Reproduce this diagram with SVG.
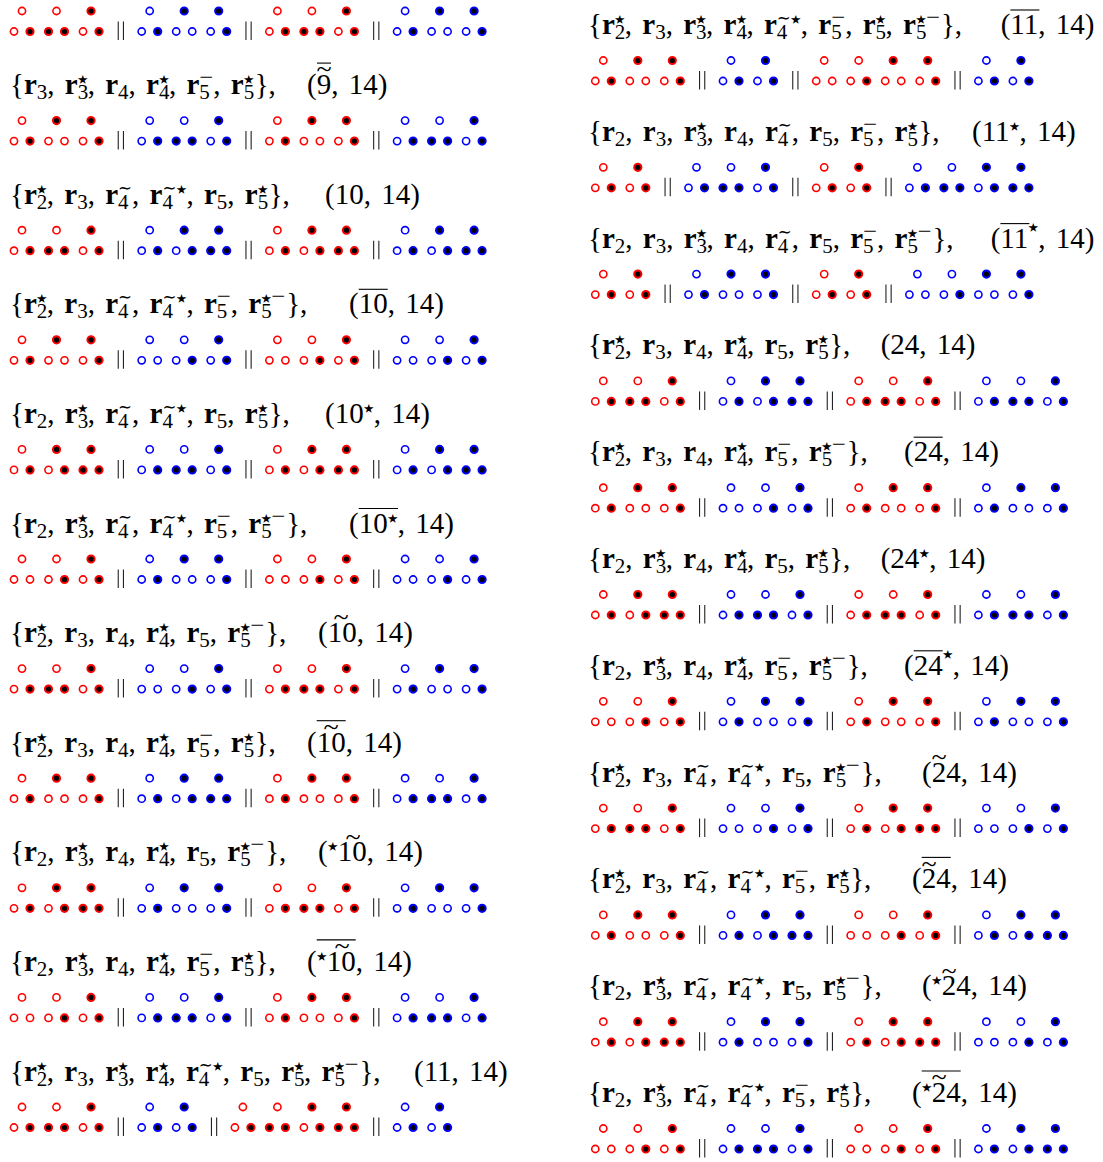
<svg xmlns="http://www.w3.org/2000/svg" width="1103" height="1162" viewBox="0 0 1103 1162">
<style>
.t{font-family:"Liberation Serif",serif;font-size:29px;word-spacing:3px;fill:#000}
.b{font-weight:bold}
.s{font-size:21px;baseline-shift:-5px}
.k{font-family:"Noto Sans CJK JP",sans-serif;font-size:10px;baseline-shift:11.5px}
.k2{font-family:"Noto Sans CJK JP",sans-serif;font-size:10px;baseline-shift:17px}
.m{font-size:21px;baseline-shift:10px}
.w{font-family:"DejaVu Sans",sans-serif;font-size:18px;baseline-shift:10px}
.tt{font-family:"Liberation Serif",serif;font-size:28px;text-anchor:middle;fill:#000}
.ov{stroke:#000;stroke-width:1.1}
.bar line{stroke:#222;stroke-width:1.1}
.ro{fill:#fff;stroke:#f00;stroke-width:1.6}
.rx{fill:#000;stroke:#f00;stroke-width:2}
.bo{fill:#fff;stroke:#00f;stroke-width:1.6}
.bx{fill:#000;stroke:#00f;stroke-width:2}
</style>
<defs>
<g id="Rooo"><circle class="ro" r="3.6"/><circle class="ro" cx="-8" cy="20.5" r="3.6"/><circle class="ro" cx="8" cy="20.5" r="3.6"/></g>
<g id="Roox"><circle class="ro" r="3.6"/><circle class="ro" cx="-8" cy="20.5" r="3.6"/><circle class="rx" cx="8" cy="20.5" r="3.6"/></g>
<g id="Roxx"><circle class="ro" r="3.6"/><circle class="rx" cx="-8" cy="20.5" r="3.6"/><circle class="rx" cx="8" cy="20.5" r="3.6"/></g>
<g id="Rxoo"><circle class="rx" r="3.6"/><circle class="ro" cx="-8" cy="20.5" r="3.6"/><circle class="ro" cx="8" cy="20.5" r="3.6"/></g>
<g id="Rxox"><circle class="rx" r="3.6"/><circle class="ro" cx="-8" cy="20.5" r="3.6"/><circle class="rx" cx="8" cy="20.5" r="3.6"/></g>
<g id="Rxxx"><circle class="rx" r="3.6"/><circle class="rx" cx="-8" cy="20.5" r="3.6"/><circle class="rx" cx="8" cy="20.5" r="3.6"/></g>
<g id="Booo"><circle class="bo" r="3.6"/><circle class="bo" cx="-8" cy="20.5" r="3.6"/><circle class="bo" cx="8" cy="20.5" r="3.6"/></g>
<g id="Boox"><circle class="bo" r="3.6"/><circle class="bo" cx="-8" cy="20.5" r="3.6"/><circle class="bx" cx="8" cy="20.5" r="3.6"/></g>
<g id="Boxx"><circle class="bo" r="3.6"/><circle class="bx" cx="-8" cy="20.5" r="3.6"/><circle class="bx" cx="8" cy="20.5" r="3.6"/></g>
<g id="Bxoo"><circle class="bx" r="3.6"/><circle class="bo" cx="-8" cy="20.5" r="3.6"/><circle class="bo" cx="8" cy="20.5" r="3.6"/></g>
<g id="Bxox"><circle class="bx" r="3.6"/><circle class="bo" cx="-8" cy="20.5" r="3.6"/><circle class="bx" cx="8" cy="20.5" r="3.6"/></g>
<g id="Bxxx"><circle class="bx" r="3.6"/><circle class="bx" cx="-8" cy="20.5" r="3.6"/><circle class="bx" cx="8" cy="20.5" r="3.6"/></g>
<g id="bar" class="bar"><line x1="-2.6" y1="10.5" x2="-2.6" y2="29"/><line x1="2.6" y1="10.5" x2="2.6" y2="29"/></g>
</defs>
<rect width="1103" height="1162" fill="#fff"/>

<g id="left-column">
<g id="left-0">
<g transform="translate(22,11)"><use href="#Roox"/><use href="#Roxx" x="34.5"/><use href="#Rxox" x="69"/><use href="#bar" x="98.85"/><use href="#Boox" x="127.7"/><use href="#Bxoo" x="162.2"/><use href="#Bxox" x="196.7"/><use href="#bar" x="226.55"/><use href="#Roox" x="255.4"/><use href="#Roxx" x="289.9"/><use href="#Rxox" x="324.4"/><use href="#bar" x="354.25"/><use href="#Boox" x="383.1"/><use href="#Bxoo" x="417.6"/><use href="#Bxox" x="452.1"/></g>
</g>
<g id="left-9bar">
<text class="t" x="10" y="94.1">{<tspan class="b">r</tspan><tspan class="s">3</tspan>, <tspan class="b">r</tspan><tspan class="s">3</tspan><tspan class="k" dx="-10.5">★</tspan>, <tspan class="b">r</tspan><tspan class="s">4</tspan>, <tspan class="b">r</tspan><tspan class="s">4</tspan><tspan class="k" dx="-10.5">★</tspan>, <tspan class="b">r</tspan><tspan class="s">5</tspan><tspan class="m" dx="-10.5" textLength="14" lengthAdjust="spacingAndGlyphs">−</tspan>, <tspan class="b">r</tspan><tspan class="s">5</tspan><tspan class="k" dx="-10.5">★</tspan><tspan dx="1">},</tspan></text>
<text class="t" x="307" y="94.1">(9, 14)</text>
<line class="ov" x1="317" y1="63.1" x2="331" y2="63.1"/><text class="tt" x="324" y="78.4">~</text>
<g transform="translate(22,120.6)"><use href="#Roox"/><use href="#Rxoo" x="34.5"/><use href="#Rxox" x="69"/><use href="#bar" x="98.85"/><use href="#Boox" x="127.7"/><use href="#Boxx" x="162.2"/><use href="#Bxox" x="196.7"/><use href="#bar" x="226.55"/><use href="#Roox" x="255.4"/><use href="#Rxoo" x="289.9"/><use href="#Rxox" x="324.4"/><use href="#bar" x="354.25"/><use href="#Boox" x="383.1"/><use href="#Boxx" x="417.6"/><use href="#Bxox" x="452.1"/></g>
</g>
<g id="left-10">
<text class="t" x="10" y="203.7">{<tspan class="b">r</tspan><tspan class="s">2</tspan><tspan class="k" dx="-10.5">★</tspan>, <tspan class="b">r</tspan><tspan class="s">3</tspan>, <tspan class="b">r</tspan><tspan class="s">4</tspan><tspan class="w" dx="-10.5" textLength="14" lengthAdjust="spacingAndGlyphs">∼</tspan>, <tspan class="b">r</tspan><tspan class="s">4</tspan><tspan class="w" dx="-10.5" textLength="14" lengthAdjust="spacingAndGlyphs">∼</tspan><tspan class="k">★</tspan>, <tspan class="b">r</tspan><tspan class="s">5</tspan>, <tspan class="b">r</tspan><tspan class="s">5</tspan><tspan class="k" dx="-10.5">★</tspan><tspan dx="1">},</tspan></text>
<text class="t" x="325" y="203.7">(10, 14)</text>
<g transform="translate(22,230.2)"><use href="#Roox"/><use href="#Roxx" x="34.5"/><use href="#Rxox" x="69"/><use href="#bar" x="98.85"/><use href="#Boox" x="127.7"/><use href="#Bxox" x="162.2"/><use href="#Bxxx" x="196.7"/><use href="#bar" x="226.55"/><use href="#Roox" x="255.4"/><use href="#Rxox" x="289.9"/><use href="#Rxxx" x="324.4"/><use href="#bar" x="354.25"/><use href="#Boox" x="383.1"/><use href="#Bxox" x="417.6"/><use href="#Bxxx" x="452.1"/></g>
</g>
<g id="left-10bar">
<text class="t" x="10" y="313.3">{<tspan class="b">r</tspan><tspan class="s">2</tspan><tspan class="k" dx="-10.5">★</tspan>, <tspan class="b">r</tspan><tspan class="s">3</tspan>, <tspan class="b">r</tspan><tspan class="s">4</tspan><tspan class="w" dx="-10.5" textLength="14" lengthAdjust="spacingAndGlyphs">∼</tspan>, <tspan class="b">r</tspan><tspan class="s">4</tspan><tspan class="w" dx="-10.5" textLength="14" lengthAdjust="spacingAndGlyphs">∼</tspan><tspan class="k">★</tspan>, <tspan class="b">r</tspan><tspan class="s">5</tspan><tspan class="m" dx="-10.5" textLength="14" lengthAdjust="spacingAndGlyphs">−</tspan>, <tspan class="b">r</tspan><tspan class="s">5</tspan><tspan class="k" dx="-10.5">★</tspan><tspan class="m" textLength="14" lengthAdjust="spacingAndGlyphs">−</tspan><tspan dx="1">},</tspan></text>
<text class="t" x="349" y="313.3">(10, 14)</text>
<line class="ov" x1="358.7" y1="289.3" x2="387.7" y2="289.3"/>
<g transform="translate(22,339.8)"><use href="#Roox"/><use href="#Rxoo" x="34.5"/><use href="#Rxox" x="69"/><use href="#bar" x="98.85"/><use href="#Booo" x="127.7"/><use href="#Boox" x="162.2"/><use href="#Bxox" x="196.7"/><use href="#bar" x="226.55"/><use href="#Rooo" x="255.4"/><use href="#Roox" x="289.9"/><use href="#Rxox" x="324.4"/><use href="#bar" x="354.25"/><use href="#Booo" x="383.1"/><use href="#Boox" x="417.6"/><use href="#Bxox" x="452.1"/></g>
</g>
<g id="left-10star">
<text class="t" x="10" y="422.9">{<tspan class="b">r</tspan><tspan class="s">2</tspan>, <tspan class="b">r</tspan><tspan class="s">3</tspan><tspan class="k" dx="-10.5">★</tspan>, <tspan class="b">r</tspan><tspan class="s">4</tspan><tspan class="w" dx="-10.5" textLength="14" lengthAdjust="spacingAndGlyphs">∼</tspan>, <tspan class="b">r</tspan><tspan class="s">4</tspan><tspan class="w" dx="-10.5" textLength="14" lengthAdjust="spacingAndGlyphs">∼</tspan><tspan class="k">★</tspan>, <tspan class="b">r</tspan><tspan class="s">5</tspan>, <tspan class="b">r</tspan><tspan class="s">5</tspan><tspan class="k" dx="-10.5">★</tspan><tspan dx="1">},</tspan></text>
<text class="t" x="325" y="422.9">(10<tspan class="k">★</tspan>, 14)</text>
<g transform="translate(22,449.4)"><use href="#Roox"/><use href="#Rxox" x="34.5"/><use href="#Rxxx" x="69"/><use href="#bar" x="98.85"/><use href="#Boox" x="127.7"/><use href="#Boxx" x="162.2"/><use href="#Bxox" x="196.7"/><use href="#bar" x="226.55"/><use href="#Roox" x="255.4"/><use href="#Rxox" x="289.9"/><use href="#Rxxx" x="324.4"/><use href="#bar" x="354.25"/><use href="#Boox" x="383.1"/><use href="#Bxox" x="417.6"/><use href="#Bxxx" x="452.1"/></g>
</g>
<g id="left-10starbar">
<text class="t" x="10" y="532.5">{<tspan class="b">r</tspan><tspan class="s">2</tspan>, <tspan class="b">r</tspan><tspan class="s">3</tspan><tspan class="k" dx="-10.5">★</tspan>, <tspan class="b">r</tspan><tspan class="s">4</tspan><tspan class="w" dx="-10.5" textLength="14" lengthAdjust="spacingAndGlyphs">∼</tspan>, <tspan class="b">r</tspan><tspan class="s">4</tspan><tspan class="w" dx="-10.5" textLength="14" lengthAdjust="spacingAndGlyphs">∼</tspan><tspan class="k">★</tspan>, <tspan class="b">r</tspan><tspan class="s">5</tspan><tspan class="m" dx="-10.5" textLength="14" lengthAdjust="spacingAndGlyphs">−</tspan>, <tspan class="b">r</tspan><tspan class="s">5</tspan><tspan class="k" dx="-10.5">★</tspan><tspan class="m" textLength="14" lengthAdjust="spacingAndGlyphs">−</tspan><tspan dx="1">},</tspan></text>
<text class="t" x="349" y="532.5">(10<tspan class="k">★</tspan>, 14)</text>
<line class="ov" x1="358.7" y1="508.5" x2="398" y2="508.5"/>
<g transform="translate(22,559)"><use href="#Rooo"/><use href="#Roox" x="34.5"/><use href="#Rxox" x="69"/><use href="#bar" x="98.85"/><use href="#Boox" x="127.7"/><use href="#Bxoo" x="162.2"/><use href="#Bxox" x="196.7"/><use href="#bar" x="226.55"/><use href="#Rooo" x="255.4"/><use href="#Roox" x="289.9"/><use href="#Rxox" x="324.4"/><use href="#bar" x="354.25"/><use href="#Booo" x="383.1"/><use href="#Boox" x="417.6"/><use href="#Bxox" x="452.1"/></g>
</g>
<g id="left-10tilde">
<text class="t" x="10" y="642.1">{<tspan class="b">r</tspan><tspan class="s">2</tspan><tspan class="k" dx="-10.5">★</tspan>, <tspan class="b">r</tspan><tspan class="s">3</tspan>, <tspan class="b">r</tspan><tspan class="s">4</tspan>, <tspan class="b">r</tspan><tspan class="s">4</tspan><tspan class="k" dx="-10.5">★</tspan>, <tspan class="b">r</tspan><tspan class="s">5</tspan>, <tspan class="b">r</tspan><tspan class="s">5</tspan><tspan class="k" dx="-10.5">★</tspan><tspan class="m" textLength="14" lengthAdjust="spacingAndGlyphs">−</tspan><tspan dx="1">},</tspan></text>
<text class="t" x="318" y="642.1">(10, 14)</text>
<text class="tt" x="341" y="626.4">~</text>
<g transform="translate(22,668.6)"><use href="#Roox"/><use href="#Roxx" x="34.5"/><use href="#Rxox" x="69"/><use href="#bar" x="98.85"/><use href="#Booo" x="127.7"/><use href="#Boox" x="162.2"/><use href="#Bxox" x="196.7"/><use href="#bar" x="226.55"/><use href="#Roox" x="255.4"/><use href="#Roxx" x="289.9"/><use href="#Rxox" x="324.4"/><use href="#bar" x="354.25"/><use href="#Boox" x="383.1"/><use href="#Bxoo" x="417.6"/><use href="#Bxox" x="452.1"/></g>
</g>
<g id="left-10tildebar">
<text class="t" x="10" y="751.7">{<tspan class="b">r</tspan><tspan class="s">2</tspan><tspan class="k" dx="-10.5">★</tspan>, <tspan class="b">r</tspan><tspan class="s">3</tspan>, <tspan class="b">r</tspan><tspan class="s">4</tspan>, <tspan class="b">r</tspan><tspan class="s">4</tspan><tspan class="k" dx="-10.5">★</tspan>, <tspan class="b">r</tspan><tspan class="s">5</tspan><tspan class="m" dx="-10.5" textLength="14" lengthAdjust="spacingAndGlyphs">−</tspan>, <tspan class="b">r</tspan><tspan class="s">5</tspan><tspan class="k" dx="-10.5">★</tspan><tspan dx="1">},</tspan></text>
<text class="t" x="307" y="751.7">(10, 14)</text>
<line class="ov" x1="316.7" y1="720.7" x2="345.7" y2="720.7"/><text class="tt" x="331" y="736">~</text>
<g transform="translate(22,778.2)"><use href="#Roox"/><use href="#Rxoo" x="34.5"/><use href="#Rxox" x="69"/><use href="#bar" x="98.85"/><use href="#Boox" x="127.7"/><use href="#Bxox" x="162.2"/><use href="#Bxxx" x="196.7"/><use href="#bar" x="226.55"/><use href="#Roox" x="255.4"/><use href="#Rxoo" x="289.9"/><use href="#Rxox" x="324.4"/><use href="#bar" x="354.25"/><use href="#Boox" x="383.1"/><use href="#Boxx" x="417.6"/><use href="#Bxox" x="452.1"/></g>
</g>
<g id="left-star10tilde">
<text class="t" x="10" y="861.3">{<tspan class="b">r</tspan><tspan class="s">2</tspan>, <tspan class="b">r</tspan><tspan class="s">3</tspan><tspan class="k" dx="-10.5">★</tspan>, <tspan class="b">r</tspan><tspan class="s">4</tspan>, <tspan class="b">r</tspan><tspan class="s">4</tspan><tspan class="k" dx="-10.5">★</tspan>, <tspan class="b">r</tspan><tspan class="s">5</tspan>, <tspan class="b">r</tspan><tspan class="s">5</tspan><tspan class="k" dx="-10.5">★</tspan><tspan class="m" textLength="14" lengthAdjust="spacingAndGlyphs">−</tspan><tspan dx="1">},</tspan></text>
<text class="t" x="318" y="861.3">(<tspan class="k">★</tspan>10, 14)</text>
<text class="tt" x="353" y="845.6">~</text>
<g transform="translate(22,887.8)"><use href="#Roox"/><use href="#Rxox" x="34.5"/><use href="#Rxxx" x="69"/><use href="#bar" x="98.85"/><use href="#Boox" x="127.7"/><use href="#Bxoo" x="162.2"/><use href="#Bxox" x="196.7"/><use href="#bar" x="226.55"/><use href="#Roox" x="255.4"/><use href="#Roxx" x="289.9"/><use href="#Rxox" x="324.4"/><use href="#bar" x="354.25"/><use href="#Boox" x="383.1"/><use href="#Bxoo" x="417.6"/><use href="#Bxox" x="452.1"/></g>
</g>
<g id="left-star10tildebar">
<text class="t" x="10" y="970.9">{<tspan class="b">r</tspan><tspan class="s">2</tspan>, <tspan class="b">r</tspan><tspan class="s">3</tspan><tspan class="k" dx="-10.5">★</tspan>, <tspan class="b">r</tspan><tspan class="s">4</tspan>, <tspan class="b">r</tspan><tspan class="s">4</tspan><tspan class="k" dx="-10.5">★</tspan>, <tspan class="b">r</tspan><tspan class="s">5</tspan><tspan class="m" dx="-10.5" textLength="14" lengthAdjust="spacingAndGlyphs">−</tspan>, <tspan class="b">r</tspan><tspan class="s">5</tspan><tspan class="k" dx="-10.5">★</tspan><tspan dx="1">},</tspan></text>
<text class="t" x="307" y="970.9">(<tspan class="k">★</tspan>10, 14)</text>
<line class="ov" x1="316.7" y1="939.9" x2="355.7" y2="939.9"/><text class="tt" x="342" y="955.2">~</text>
<g transform="translate(22,997.4)"><use href="#Rooo"/><use href="#Roox" x="34.5"/><use href="#Rxox" x="69"/><use href="#bar" x="98.85"/><use href="#Boox" x="127.7"/><use href="#Boxx" x="162.2"/><use href="#Bxox" x="196.7"/><use href="#bar" x="226.55"/><use href="#Roox" x="255.4"/><use href="#Rxoo" x="289.9"/><use href="#Rxox" x="324.4"/><use href="#bar" x="354.25"/><use href="#Boox" x="383.1"/><use href="#Boxx" x="417.6"/><use href="#Bxox" x="452.1"/></g>
</g>
<g id="left-11">
<text class="t" x="10" y="1080.5">{<tspan class="b">r</tspan><tspan class="s">2</tspan><tspan class="k" dx="-10.5">★</tspan>, <tspan class="b">r</tspan><tspan class="s">3</tspan>, <tspan class="b">r</tspan><tspan class="s">3</tspan><tspan class="k" dx="-10.5">★</tspan>, <tspan class="b">r</tspan><tspan class="s">4</tspan><tspan class="k" dx="-10.5">★</tspan>, <tspan class="b">r</tspan><tspan class="s">4</tspan><tspan class="w" dx="-10.5" textLength="14" lengthAdjust="spacingAndGlyphs">∼</tspan><tspan class="k">★</tspan>, <tspan class="b">r</tspan><tspan class="s">5</tspan>, <tspan class="b">r</tspan><tspan class="s">5</tspan><tspan class="k" dx="-10.5">★</tspan>, <tspan class="b">r</tspan><tspan class="s">5</tspan><tspan class="k" dx="-10.5">★</tspan><tspan class="m" textLength="14" lengthAdjust="spacingAndGlyphs">−</tspan><tspan dx="1">},</tspan></text>
<text class="t" x="414" y="1080.5">(11, 14)</text>
<g transform="translate(22,1107)"><use href="#Roox"/><use href="#Roxx" x="34.5"/><use href="#Rxox" x="69"/><use href="#bar" x="98.85"/><use href="#Boox" x="127.7"/><use href="#Bxox" x="162.2"/><use href="#bar" x="192.05"/><use href="#Roox" x="220.9"/><use href="#Roxx" x="255.4"/><use href="#Rxox" x="289.9"/><use href="#Rxxx" x="324.4"/><use href="#bar" x="354.25"/><use href="#Boox" x="383.1"/><use href="#Bxox" x="417.6"/></g>
</g>
</g>

<g id="right-column">
<g id="right-11bar">
<text class="t" x="588" y="34">{<tspan class="b">r</tspan><tspan class="s">2</tspan><tspan class="k" dx="-10.5">★</tspan>, <tspan class="b">r</tspan><tspan class="s">3</tspan>, <tspan class="b">r</tspan><tspan class="s">3</tspan><tspan class="k" dx="-10.5">★</tspan>, <tspan class="b">r</tspan><tspan class="s">4</tspan><tspan class="k" dx="-10.5">★</tspan>, <tspan class="b">r</tspan><tspan class="s">4</tspan><tspan class="w" dx="-10.5" textLength="14" lengthAdjust="spacingAndGlyphs">∼</tspan><tspan class="k">★</tspan>, <tspan class="b">r</tspan><tspan class="s">5</tspan><tspan class="m" dx="-10.5" textLength="14" lengthAdjust="spacingAndGlyphs">−</tspan>, <tspan class="b">r</tspan><tspan class="s">5</tspan><tspan class="k" dx="-10.5">★</tspan>, <tspan class="b">r</tspan><tspan class="s">5</tspan><tspan class="k" dx="-10.5">★</tspan><tspan class="m" textLength="14" lengthAdjust="spacingAndGlyphs">−</tspan><tspan dx="1">},</tspan></text>
<text class="t" x="1000.7" y="34">(11, 14)</text>
<line class="ov" x1="1010.4" y1="10" x2="1039.4" y2="10"/>
<g transform="translate(603.3,60.5)"><use href="#Roox"/><use href="#Rxoo" x="34.5"/><use href="#Rxox" x="69"/><use href="#bar" x="98.85"/><use href="#Boox" x="127.7"/><use href="#Bxox" x="162.2"/><use href="#bar" x="192.05"/><use href="#Rooo" x="220.9"/><use href="#Roox" x="255.4"/><use href="#Rxoo" x="289.9"/><use href="#Rxox" x="324.4"/><use href="#bar" x="354.25"/><use href="#Boox" x="383.1"/><use href="#Bxox" x="417.6"/></g>
</g>
<g id="right-11star">
<text class="t" x="588" y="140.8">{<tspan class="b">r</tspan><tspan class="s">2</tspan>, <tspan class="b">r</tspan><tspan class="s">3</tspan>, <tspan class="b">r</tspan><tspan class="s">3</tspan><tspan class="k" dx="-10.5">★</tspan>, <tspan class="b">r</tspan><tspan class="s">4</tspan>, <tspan class="b">r</tspan><tspan class="s">4</tspan><tspan class="w" dx="-10.5" textLength="14" lengthAdjust="spacingAndGlyphs">∼</tspan>, <tspan class="b">r</tspan><tspan class="s">5</tspan>, <tspan class="b">r</tspan><tspan class="s">5</tspan><tspan class="m" dx="-10.5" textLength="14" lengthAdjust="spacingAndGlyphs">−</tspan>, <tspan class="b">r</tspan><tspan class="s">5</tspan><tspan class="k" dx="-10.5">★</tspan><tspan dx="1">},</tspan></text>
<text class="t" x="972" y="140.8">(11<tspan class="k">★</tspan>, 14)</text>
<g transform="translate(603.3,167.3)"><use href="#Roox"/><use href="#Rxox" x="34.5"/><use href="#bar" x="64.35"/><use href="#Boox" x="93.2"/><use href="#Boxx" x="127.7"/><use href="#Bxox" x="162.2"/><use href="#bar" x="192.05"/><use href="#Roox" x="220.9"/><use href="#Rxox" x="255.4"/><use href="#bar" x="285.25"/><use href="#Boox" x="314.1"/><use href="#Boxx" x="348.6"/><use href="#Bxox" x="383.1"/><use href="#Bxxx" x="417.6"/></g>
</g>
<g id="right-11barstar">
<text class="t" x="588" y="247.6">{<tspan class="b">r</tspan><tspan class="s">2</tspan>, <tspan class="b">r</tspan><tspan class="s">3</tspan>, <tspan class="b">r</tspan><tspan class="s">3</tspan><tspan class="k" dx="-10.5">★</tspan>, <tspan class="b">r</tspan><tspan class="s">4</tspan>, <tspan class="b">r</tspan><tspan class="s">4</tspan><tspan class="w" dx="-10.5" textLength="14" lengthAdjust="spacingAndGlyphs">∼</tspan>, <tspan class="b">r</tspan><tspan class="s">5</tspan>, <tspan class="b">r</tspan><tspan class="s">5</tspan><tspan class="m" dx="-10.5" textLength="14" lengthAdjust="spacingAndGlyphs">−</tspan>, <tspan class="b">r</tspan><tspan class="s">5</tspan><tspan class="k" dx="-10.5">★</tspan><tspan class="m" textLength="14" lengthAdjust="spacingAndGlyphs">−</tspan><tspan dx="1">},</tspan></text>
<text class="t" x="990.7" y="247.6">(11<tspan class="k2">★</tspan>, 14)</text>
<line class="ov" x1="1000.4" y1="223.6" x2="1029.4" y2="223.6"/>
<g transform="translate(603.3,274.1)"><use href="#Roox"/><use href="#Rxox" x="34.5"/><use href="#bar" x="64.35"/><use href="#Boox" x="93.2"/><use href="#Bxoo" x="127.7"/><use href="#Bxox" x="162.2"/><use href="#bar" x="192.05"/><use href="#Roox" x="220.9"/><use href="#Rxox" x="255.4"/><use href="#bar" x="285.25"/><use href="#Booo" x="314.1"/><use href="#Boox" x="348.6"/><use href="#Bxoo" x="383.1"/><use href="#Bxox" x="417.6"/></g>
</g>
<g id="right-24">
<text class="t" x="588" y="354.4">{<tspan class="b">r</tspan><tspan class="s">2</tspan><tspan class="k" dx="-10.5">★</tspan>, <tspan class="b">r</tspan><tspan class="s">3</tspan>, <tspan class="b">r</tspan><tspan class="s">4</tspan>, <tspan class="b">r</tspan><tspan class="s">4</tspan><tspan class="k" dx="-10.5">★</tspan>, <tspan class="b">r</tspan><tspan class="s">5</tspan>, <tspan class="b">r</tspan><tspan class="s">5</tspan><tspan class="k" dx="-10.5">★</tspan><tspan dx="1">},</tspan></text>
<text class="t" x="880.7" y="354.4">(24, 14)</text>
<g transform="translate(603.3,380.9)"><use href="#Roox"/><use href="#Roxx" x="34.5"/><use href="#Rxox" x="69"/><use href="#bar" x="98.85"/><use href="#Boox" x="127.7"/><use href="#Bxox" x="162.2"/><use href="#Bxxx" x="196.7"/><use href="#bar" x="226.55"/><use href="#Roox" x="255.4"/><use href="#Roxx" x="289.9"/><use href="#Rxox" x="324.4"/><use href="#bar" x="354.25"/><use href="#Boox" x="383.1"/><use href="#Boxx" x="417.6"/><use href="#Bxox" x="452.1"/></g>
</g>
<g id="right-24bar">
<text class="t" x="588" y="461.2">{<tspan class="b">r</tspan><tspan class="s">2</tspan><tspan class="k" dx="-10.5">★</tspan>, <tspan class="b">r</tspan><tspan class="s">3</tspan>, <tspan class="b">r</tspan><tspan class="s">4</tspan>, <tspan class="b">r</tspan><tspan class="s">4</tspan><tspan class="k" dx="-10.5">★</tspan>, <tspan class="b">r</tspan><tspan class="s">5</tspan><tspan class="m" dx="-10.5" textLength="14" lengthAdjust="spacingAndGlyphs">−</tspan>, <tspan class="b">r</tspan><tspan class="s">5</tspan><tspan class="k" dx="-10.5">★</tspan><tspan class="m" textLength="14" lengthAdjust="spacingAndGlyphs">−</tspan><tspan dx="1">},</tspan></text>
<text class="t" x="904" y="461.2">(24, 14)</text>
<line class="ov" x1="913.7" y1="437.2" x2="942.7" y2="437.2"/>
<g transform="translate(603.3,487.7)"><use href="#Roox"/><use href="#Rxoo" x="34.5"/><use href="#Rxox" x="69"/><use href="#bar" x="98.85"/><use href="#Booo" x="127.7"/><use href="#Boox" x="162.2"/><use href="#Bxox" x="196.7"/><use href="#bar" x="226.55"/><use href="#Roox" x="255.4"/><use href="#Rxoo" x="289.9"/><use href="#Rxox" x="324.4"/><use href="#bar" x="354.25"/><use href="#Boox" x="383.1"/><use href="#Bxoo" x="417.6"/><use href="#Bxox" x="452.1"/></g>
</g>
<g id="right-24star">
<text class="t" x="588" y="568">{<tspan class="b">r</tspan><tspan class="s">2</tspan>, <tspan class="b">r</tspan><tspan class="s">3</tspan><tspan class="k" dx="-10.5">★</tspan>, <tspan class="b">r</tspan><tspan class="s">4</tspan>, <tspan class="b">r</tspan><tspan class="s">4</tspan><tspan class="k" dx="-10.5">★</tspan>, <tspan class="b">r</tspan><tspan class="s">5</tspan>, <tspan class="b">r</tspan><tspan class="s">5</tspan><tspan class="k" dx="-10.5">★</tspan><tspan dx="1">},</tspan></text>
<text class="t" x="880.7" y="568">(24<tspan class="k">★</tspan>, 14)</text>
<g transform="translate(603.3,594.5)"><use href="#Roox"/><use href="#Rxox" x="34.5"/><use href="#Rxxx" x="69"/><use href="#bar" x="98.85"/><use href="#Boox" x="127.7"/><use href="#Boxx" x="162.2"/><use href="#Bxox" x="196.7"/><use href="#bar" x="226.55"/><use href="#Roox" x="255.4"/><use href="#Roxx" x="289.9"/><use href="#Rxox" x="324.4"/><use href="#bar" x="354.25"/><use href="#Boox" x="383.1"/><use href="#Boxx" x="417.6"/><use href="#Bxox" x="452.1"/></g>
</g>
<g id="right-24barstar">
<text class="t" x="588" y="674.8">{<tspan class="b">r</tspan><tspan class="s">2</tspan>, <tspan class="b">r</tspan><tspan class="s">3</tspan><tspan class="k" dx="-10.5">★</tspan>, <tspan class="b">r</tspan><tspan class="s">4</tspan>, <tspan class="b">r</tspan><tspan class="s">4</tspan><tspan class="k" dx="-10.5">★</tspan>, <tspan class="b">r</tspan><tspan class="s">5</tspan><tspan class="m" dx="-10.5" textLength="14" lengthAdjust="spacingAndGlyphs">−</tspan>, <tspan class="b">r</tspan><tspan class="s">5</tspan><tspan class="k" dx="-10.5">★</tspan><tspan class="m" textLength="14" lengthAdjust="spacingAndGlyphs">−</tspan><tspan dx="1">},</tspan></text>
<text class="t" x="904" y="674.8">(24<tspan class="k2">★</tspan>, 14)</text>
<line class="ov" x1="913.7" y1="650.8" x2="942.7" y2="650.8"/>
<g transform="translate(603.3,701.3)"><use href="#Rooo"/><use href="#Roox" x="34.5"/><use href="#Rxox" x="69"/><use href="#bar" x="98.85"/><use href="#Boox" x="127.7"/><use href="#Bxoo" x="162.2"/><use href="#Bxox" x="196.7"/><use href="#bar" x="226.55"/><use href="#Roox" x="255.4"/><use href="#Rxoo" x="289.9"/><use href="#Rxox" x="324.4"/><use href="#bar" x="354.25"/><use href="#Boox" x="383.1"/><use href="#Bxoo" x="417.6"/><use href="#Bxox" x="452.1"/></g>
</g>
<g id="right-24tilde">
<text class="t" x="588" y="781.6">{<tspan class="b">r</tspan><tspan class="s">2</tspan><tspan class="k" dx="-10.5">★</tspan>, <tspan class="b">r</tspan><tspan class="s">3</tspan>, <tspan class="b">r</tspan><tspan class="s">4</tspan><tspan class="w" dx="-10.5" textLength="14" lengthAdjust="spacingAndGlyphs">∼</tspan>, <tspan class="b">r</tspan><tspan class="s">4</tspan><tspan class="w" dx="-10.5" textLength="14" lengthAdjust="spacingAndGlyphs">∼</tspan><tspan class="k">★</tspan>, <tspan class="b">r</tspan><tspan class="s">5</tspan>, <tspan class="b">r</tspan><tspan class="s">5</tspan><tspan class="k" dx="-10.5">★</tspan><tspan class="m" textLength="14" lengthAdjust="spacingAndGlyphs">−</tspan><tspan dx="1">},</tspan></text>
<text class="t" x="922" y="781.6">(24, 14)</text>
<text class="tt" x="939" y="765.9">~</text>
<g transform="translate(603.3,808.1)"><use href="#Roox"/><use href="#Roxx" x="34.5"/><use href="#Rxox" x="69"/><use href="#bar" x="98.85"/><use href="#Booo" x="127.7"/><use href="#Boox" x="162.2"/><use href="#Bxox" x="196.7"/><use href="#bar" x="226.55"/><use href="#Roox" x="255.4"/><use href="#Rxox" x="289.9"/><use href="#Rxxx" x="324.4"/><use href="#bar" x="354.25"/><use href="#Booo" x="383.1"/><use href="#Boox" x="417.6"/><use href="#Bxox" x="452.1"/></g>
</g>
<g id="right-24tildebar">
<text class="t" x="588" y="888.4">{<tspan class="b">r</tspan><tspan class="s">2</tspan><tspan class="k" dx="-10.5">★</tspan>, <tspan class="b">r</tspan><tspan class="s">3</tspan>, <tspan class="b">r</tspan><tspan class="s">4</tspan><tspan class="w" dx="-10.5" textLength="14" lengthAdjust="spacingAndGlyphs">∼</tspan>, <tspan class="b">r</tspan><tspan class="s">4</tspan><tspan class="w" dx="-10.5" textLength="14" lengthAdjust="spacingAndGlyphs">∼</tspan><tspan class="k">★</tspan>, <tspan class="b">r</tspan><tspan class="s">5</tspan><tspan class="m" dx="-10.5" textLength="14" lengthAdjust="spacingAndGlyphs">−</tspan>, <tspan class="b">r</tspan><tspan class="s">5</tspan><tspan class="k" dx="-10.5">★</tspan><tspan dx="1">},</tspan></text>
<text class="t" x="912" y="888.4">(24, 14)</text>
<line class="ov" x1="921.7" y1="857.4" x2="950.7" y2="857.4"/><text class="tt" x="929" y="872.7">~</text>
<g transform="translate(603.3,914.9)"><use href="#Roox"/><use href="#Rxoo" x="34.5"/><use href="#Rxox" x="69"/><use href="#bar" x="98.85"/><use href="#Boox" x="127.7"/><use href="#Bxox" x="162.2"/><use href="#Bxxx" x="196.7"/><use href="#bar" x="226.55"/><use href="#Rooo" x="255.4"/><use href="#Roox" x="289.9"/><use href="#Rxox" x="324.4"/><use href="#bar" x="354.25"/><use href="#Boox" x="383.1"/><use href="#Bxox" x="417.6"/><use href="#Bxxx" x="452.1"/></g>
</g>
<g id="right-star24tilde">
<text class="t" x="588" y="995.2">{<tspan class="b">r</tspan><tspan class="s">2</tspan>, <tspan class="b">r</tspan><tspan class="s">3</tspan><tspan class="k" dx="-10.5">★</tspan>, <tspan class="b">r</tspan><tspan class="s">4</tspan><tspan class="w" dx="-10.5" textLength="14" lengthAdjust="spacingAndGlyphs">∼</tspan>, <tspan class="b">r</tspan><tspan class="s">4</tspan><tspan class="w" dx="-10.5" textLength="14" lengthAdjust="spacingAndGlyphs">∼</tspan><tspan class="k">★</tspan>, <tspan class="b">r</tspan><tspan class="s">5</tspan>, <tspan class="b">r</tspan><tspan class="s">5</tspan><tspan class="k" dx="-10.5">★</tspan><tspan class="m" textLength="14" lengthAdjust="spacingAndGlyphs">−</tspan><tspan dx="1">},</tspan></text>
<text class="t" x="922" y="995.2">(<tspan class="k">★</tspan>24, 14)</text>
<text class="tt" x="949" y="979.5">~</text>
<g transform="translate(603.3,1021.7)"><use href="#Roox"/><use href="#Rxox" x="34.5"/><use href="#Rxxx" x="69"/><use href="#bar" x="98.85"/><use href="#Boox" x="127.7"/><use href="#Bxoo" x="162.2"/><use href="#Bxox" x="196.7"/><use href="#bar" x="226.55"/><use href="#Roox" x="255.4"/><use href="#Rxox" x="289.9"/><use href="#Rxxx" x="324.4"/><use href="#bar" x="354.25"/><use href="#Booo" x="383.1"/><use href="#Boox" x="417.6"/><use href="#Bxox" x="452.1"/></g>
</g>
<g id="right-star24tildebar">
<text class="t" x="588" y="1102">{<tspan class="b">r</tspan><tspan class="s">2</tspan>, <tspan class="b">r</tspan><tspan class="s">3</tspan><tspan class="k" dx="-10.5">★</tspan>, <tspan class="b">r</tspan><tspan class="s">4</tspan><tspan class="w" dx="-10.5" textLength="14" lengthAdjust="spacingAndGlyphs">∼</tspan>, <tspan class="b">r</tspan><tspan class="s">4</tspan><tspan class="w" dx="-10.5" textLength="14" lengthAdjust="spacingAndGlyphs">∼</tspan><tspan class="k">★</tspan>, <tspan class="b">r</tspan><tspan class="s">5</tspan><tspan class="m" dx="-10.5" textLength="14" lengthAdjust="spacingAndGlyphs">−</tspan>, <tspan class="b">r</tspan><tspan class="s">5</tspan><tspan class="k" dx="-10.5">★</tspan><tspan dx="1">},</tspan></text>
<text class="t" x="912" y="1102">(<tspan class="k">★</tspan>24, 14)</text>
<line class="ov" x1="921.7" y1="1071" x2="960.7" y2="1071"/><text class="tt" x="939" y="1086.3">~</text>
<g transform="translate(603.3,1128.5)"><use href="#Rooo"/><use href="#Roox" x="34.5"/><use href="#Rxox" x="69"/><use href="#bar" x="98.85"/><use href="#Boox" x="127.7"/><use href="#Boxx" x="162.2"/><use href="#Bxox" x="196.7"/><use href="#bar" x="226.55"/><use href="#Rooo" x="255.4"/><use href="#Roox" x="289.9"/><use href="#Rxox" x="324.4"/><use href="#bar" x="354.25"/><use href="#Boox" x="383.1"/><use href="#Bxox" x="417.6"/><use href="#Bxxx" x="452.1"/></g>
</g>
</g>
</svg>
